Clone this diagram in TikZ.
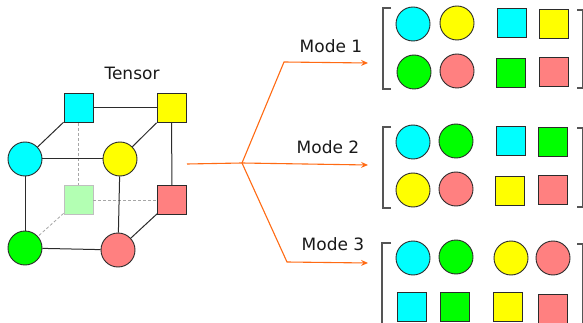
\documentclass[tikz,border=0pt]{standalone}
\usepackage{fontspec}
\setmainfont{DejaVu Sans}
\usetikzlibrary{arrows.meta}
\definecolor{cyanfill}{HTML}{00FFFF}
\definecolor{yellowfill}{HTML}{FFFF00}
\definecolor{greenfill}{HTML}{00FF00}
\definecolor{pinkfill}{HTML}{FF8080}
\definecolor{palegreen}{HTML}{B3FFB3}
\definecolor{edgeline}{HTML}{2B2B2B}
\definecolor{flow}{HTML}{FF6A13}
\definecolor{bracketgray}{HTML}{555555}
\tikzset{
  dot/.style={circle, draw=edgeline, line width=0.9pt, minimum size=34pt, inner sep=0pt},
  tile/.style={rectangle, draw=edgeline, line width=0.9pt, minimum size=29pt, inner sep=0pt},
  ghost/.style={rectangle, draw=black!25, fill=palegreen, line width=0.9pt, minimum size=29pt, inner sep=0pt},
  edge/.style={draw=edgeline, line width=1pt},
  hidden/.style={draw=black!35, line width=0.8pt, dash pattern=on 3pt off 2pt},
  flowline/.style={draw=flow, line width=1.1pt, -{Stealth[length=7pt,width=6pt,inset=2.5pt]}},
  flowstem/.style={draw=flow, line width=1.1pt},
  bracket/.style={draw=bracketgray, line width=1.4pt},
  caption/.style={font=\fontsize{17}{20}\selectfont, text=black!90, inner sep=0pt}
}
\begin{document}
\begin{tikzpicture}[x=1pt,y=-1pt]
\useasboundingbox (0,0) rectangle (583,323);

% ---- tensor cube ----
\node[caption] (tensor) at (132,73) {Tensor};
% back face
\node[ghost] (bbl) at (78.5,200) {};
\node[tile, fill=cyanfill] (btl) at (78.5,108) {};
\node[tile, fill=yellowfill] (btr) at (171.5,108) {};
\node[tile, fill=pinkfill] (bbr) at (172,200) {};
% front face
\node[dot, fill=cyanfill] (ftl) at (25,159) {};
\node[dot, fill=yellowfill] (ftr) at (120,159) {};
\node[dot, fill=greenfill] (fbl) at (25,248) {};
\node[dot, fill=pinkfill] (fbr) at (118,250) {};

% hidden edges
\draw[hidden] (btl) -- (bbl);
\draw[hidden] (bbl) -- (bbr);
\draw[hidden] (bbl) -- (fbl);
% visible edges
\draw[edge] (btl) -- (btr);
\draw[edge] (btl) -- (ftl);
\draw[edge] (btr) -- (ftr);
\draw[edge] (btr) -- (bbr);
\draw[edge] (ftl) -- (ftr);
\draw[edge] (ftl) -- (fbl);
\draw[edge] (ftr) -- (fbr);
\draw[edge] (bbr) -- (fbr);
\draw[edge] (fbl) -- (fbr);

% ---- unfolding arrows ----
\coordinate (src) at (187,164);
\coordinate (fork) at (242,163);
\coordinate (k1) at (284,62);
\coordinate (k3) at (287,262);
\coordinate (e1) at (368,63);
\coordinate (e2) at (368,165);
\coordinate (e3) at (368,263);
\draw[flowstem] (src) -- (fork);
\draw[flowline] (fork) -- (k1) -- (e1);
\draw[flowline] (fork) -- (e2);
\draw[flowline] (fork) -- (k3) -- (e3);
\node[caption] (mode1) at (331,46) {Mode 1};
\node[caption] (mode2) at (328,147) {Mode 2};
\node[caption] (mode3) at (333,244) {Mode 3};

% ---- mode-1 unfolding ----
\draw[bracket] (391,8) -- (383,8) -- (383,89) -- (391,89);
\draw[bracket] (577,10) -- (583,10) -- (583,88) -- (577,88);
\node[dot, fill=cyanfill] (a11) at (413,24) {};
\node[dot, fill=yellowfill] (a12) at (457,23) {};
\node[tile, fill=cyanfill] (a13) at (511.5,23) {};
\node[tile, fill=yellowfill] (a14) at (553.5,24) {};
\node[dot, fill=greenfill] (a21) at (414,72) {};
\node[dot, fill=pinkfill] (a22) at (457,71) {};
\node[tile, fill=greenfill] (a23) at (510.5,73) {};
\node[tile, fill=pinkfill] (a24) at (554,72) {};

% ---- mode-2 unfolding ----
\draw[bracket] (391,127) -- (383,127) -- (383,208) -- (391,208);
\draw[bracket] (577,128) -- (583,128) -- (583,207) -- (577,207);
\node[dot, fill=cyanfill] (b11) at (413,142) {};
\node[dot, fill=greenfill] (b12) at (456,141) {};
\node[tile, fill=cyanfill] (b13) at (510.7,141) {};
\node[tile, fill=greenfill] (b14) at (553,142) {};
\node[dot, fill=yellowfill] (b21) at (413,190) {};
\node[dot, fill=pinkfill] (b22) at (456,189) {};
\node[tile, fill=yellowfill] (b23) at (510,191) {};
\node[tile, fill=pinkfill] (b24) at (553,190) {};

% ---- mode-3 unfolding ----
\draw[bracket] (391,243) -- (382,243) -- (382,330);
\draw[bracket] (577,244) -- (583,244) -- (583,330);
\node[dot, fill=cyanfill] (c11) at (413,258) {};
\node[dot, fill=greenfill] (c12) at (456,257) {};
\node[dot, fill=yellowfill] (c13) at (511,258) {};
\node[dot, fill=pinkfill] (c14) at (553,258) {};
\node[tile, fill=cyanfill] (c21) at (412,307) {};
\node[tile, fill=greenfill] (c22) at (455,307) {};
\node[tile, fill=yellowfill] (c23) at (508,307) {};
\node[tile, fill=pinkfill] (c24) at (553,309) {};
\end{tikzpicture}
\end{document}
